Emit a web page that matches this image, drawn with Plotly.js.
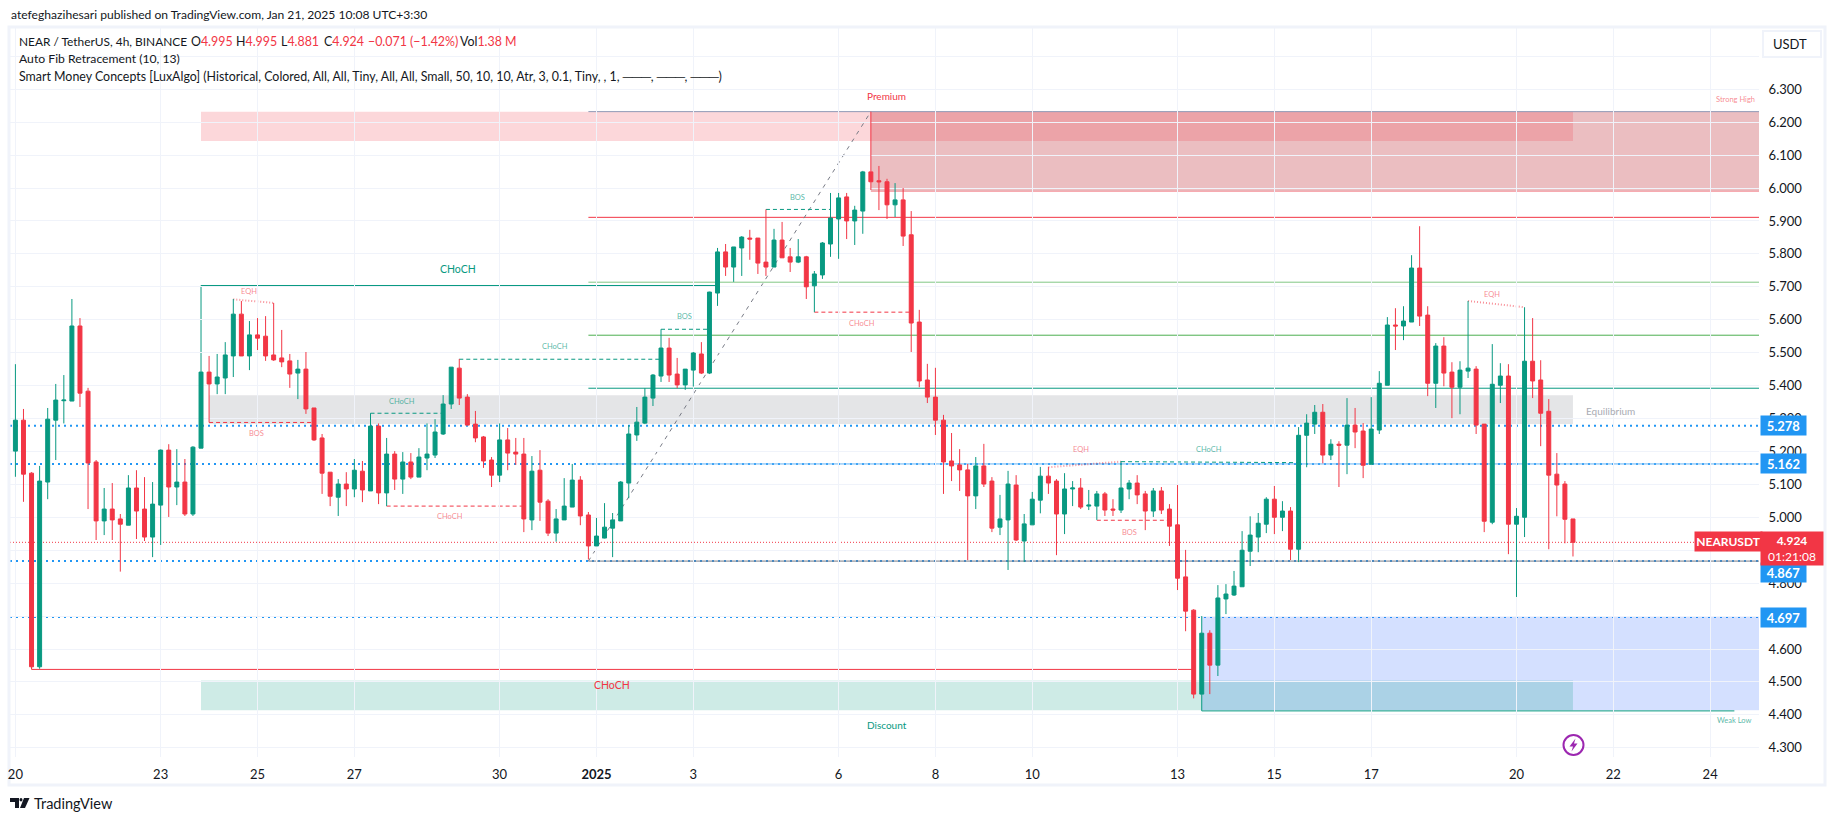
<!DOCTYPE html>
<html><head><meta charset="utf-8">
<script src="https://cdn.plot.ly/plotly-3.0.1.min.js"></script>
<style>html,body{margin:0;padding:0;background:#fff;overflow:hidden}#c{width:1835px;height:821px}</style>
</head><body><div id="c"></div>
<script>
const opens=[5.201,5.295,5.134,4.546,5.107,5.295,5.354,5.353,5.581,5.383,
5.168,4.989,5.025,4.995,4.976,5.089,5.025,4.940,5.037,5.204,
5.092,5.107,5.010,5.210,5.441,5.405,5.423,5.490,5.617,5.490,
5.554,5.550,5.493,5.484,5.475,5.438,5.450,5.332,5.241,5.137,
5.061,5.101,5.086,5.140,5.080,5.277,5.074,5.192,5.116,5.168,
5.122,5.180,5.189,5.253,5.344,5.453,5.365,5.283,5.244,5.174,
5.128,5.235,5.198,5.192,4.992,5.143,5.049,4.952,4.992,5.031,
5.113,5.007,4.913,4.937,4.967,4.989,5.104,5.250,5.286,5.362,
5.429,5.514,5.435,5.402,5.447,5.496,5.438,5.681,5.806,5.760,
5.818,5.848,5.848,5.775,5.760,5.842,5.791,5.775,5.791,5.703,
5.736,5.830,5.906,5.973,5.900,5.930,6.049,6.022,6.019,5.949,
5.964,5.858,5.593,5.417,5.365,5.295,5.171,5.159,5.144,5.065,
5.156,5.110,4.970,4.992,5.098,4.928,4.977,5.052,5.125,5.110,
5.010,5.086,5.089,5.034,5.034,5.071,5.025,5.022,5.086,5.104,
5.071,5.019,5.080,5.025,4.977,4.819,4.718,4.463,4.648,4.551,
4.752,4.764,4.789,4.897,4.940,4.979,5.055,5.000,5.019,4.903,
5.249,5.283,5.319,5.189,5.222,5.219,5.280,5.262,5.161,5.265,
5.401,5.584,5.581,5.593,5.757,5.614,5.407,5.520,5.441,5.395,
5.444,5.450,5.283,4.985,5.401,5.429,4.979,5.000,5.474,5.417,
5.322,5.131,5.101,4.995];
const highs=[5.465,5.329,5.137,5.156,5.332,5.405,5.432,5.663,5.605,5.393,
5.174,5.089,5.104,5.010,5.128,5.143,5.122,5.107,5.206,5.222,
5.207,5.177,5.216,5.441,5.490,5.496,5.532,5.663,5.657,5.596,
5.605,5.611,5.651,5.569,5.496,5.478,5.502,5.332,5.253,5.137,
5.116,5.137,5.177,5.171,5.316,5.285,5.241,5.201,5.198,5.195,
5.210,5.285,5.298,5.371,5.456,5.481,5.374,5.323,5.247,5.183,
5.285,5.271,5.241,5.241,5.186,5.204,5.055,5.025,5.119,5.162,
5.125,5.016,4.998,5.043,5.013,5.110,5.280,5.335,5.392,5.435,
5.571,5.545,5.484,5.450,5.502,5.532,5.685,5.818,5.830,5.821,
5.854,5.873,5.848,5.935,5.876,5.897,5.818,5.845,5.794,5.748,
5.836,5.985,5.985,5.985,5.946,6.052,6.232,6.067,6.028,6.015,
6.000,5.930,5.630,5.466,5.454,5.311,5.256,5.207,5.162,5.183,
5.223,5.122,5.068,5.141,5.128,5.010,5.077,5.153,5.153,5.116,
5.134,5.110,5.119,5.083,5.080,5.077,5.055,5.171,5.113,5.128,
5.080,5.089,5.092,5.040,5.098,4.901,4.721,4.700,4.657,4.794,
4.797,4.837,4.958,5.003,5.013,5.061,5.095,5.049,5.031,5.274,
5.313,5.341,5.344,5.237,5.231,5.362,5.332,5.286,5.365,5.444,
5.608,5.635,5.641,5.796,5.884,5.641,5.529,5.547,5.471,5.474,
5.657,5.459,5.283,5.526,5.468,5.465,5.028,5.638,5.605,5.477,
5.359,5.195,5.110,4.995];
const lows=[5.123,5.047,4.540,4.540,5.055,5.174,5.285,5.353,5.335,5.025,
4.931,4.946,4.931,4.835,4.976,4.934,4.928,4.879,4.916,5.001,
5.037,5.004,5.004,5.210,5.288,5.374,5.374,5.426,5.490,5.447,
5.508,5.475,5.475,5.456,5.393,5.359,5.314,5.232,5.071,5.034,
5.004,5.034,5.061,5.046,5.080,5.040,5.034,5.083,5.071,5.116,
5.122,5.143,5.180,5.250,5.329,5.341,5.280,5.228,5.150,5.092,
5.107,5.143,5.159,4.955,4.961,4.989,4.943,4.926,4.992,5.031,
4.976,4.872,4.913,4.936,4.879,4.989,5.058,5.232,5.283,5.338,
5.411,5.411,5.392,5.387,5.397,5.435,5.435,5.642,5.733,5.715,
5.733,5.782,5.739,5.733,5.760,5.788,5.745,5.772,5.663,5.623,
5.724,5.791,5.785,5.845,5.827,5.861,5.994,5.933,5.906,5.912,
5.824,5.502,5.395,5.347,5.250,5.071,5.110,5.080,4.870,5.025,
5.092,4.955,4.946,4.840,4.928,4.864,4.977,5.012,5.071,4.885,
4.949,5.034,5.025,5.022,4.992,5.004,5.004,5.013,5.055,5.040,
4.961,5.001,5.010,4.913,4.779,4.654,4.450,4.412,4.463,4.518,
4.706,4.761,4.789,4.852,4.894,4.952,4.949,4.958,4.870,4.864,
5.152,5.253,5.164,5.174,5.092,5.131,5.210,5.119,5.161,5.253,
5.401,5.508,5.538,5.593,5.581,5.368,5.332,5.398,5.301,5.313,
5.423,5.253,4.955,4.979,5.347,4.888,4.758,4.940,5.362,5.216,
4.903,5.003,4.921,4.881];
const closes=[5.295,5.131,4.546,5.110,5.298,5.356,5.356,5.581,5.377,5.165,
4.989,5.025,4.992,4.979,5.089,5.019,4.940,5.040,5.204,5.092,
5.107,5.010,5.213,5.441,5.405,5.426,5.493,5.617,5.490,5.554,
5.544,5.490,5.478,5.472,5.435,5.450,5.329,5.235,5.134,5.064,
5.101,5.086,5.143,5.083,5.277,5.074,5.192,5.116,5.168,5.122,
5.183,5.192,5.259,5.344,5.456,5.362,5.280,5.241,5.171,5.128,
5.235,5.195,5.192,4.995,5.140,5.046,4.952,4.995,5.034,5.113,
5.004,4.913,4.943,4.970,4.992,5.107,5.253,5.289,5.365,5.432,
5.514,5.432,5.402,5.450,5.499,5.438,5.684,5.806,5.760,5.821,
5.851,5.845,5.772,5.760,5.842,5.788,5.775,5.791,5.700,5.739,
5.833,5.909,5.970,5.900,5.933,6.049,6.019,6.019,5.949,5.964,
5.854,5.590,5.414,5.365,5.295,5.168,5.156,5.144,5.065,5.156,
5.101,4.967,4.995,5.101,4.931,4.980,5.055,5.125,5.104,5.010,
5.086,5.089,5.031,5.037,5.071,5.022,5.022,5.089,5.104,5.068,
5.019,5.080,5.022,4.973,4.815,4.715,4.463,4.648,4.551,4.755,
4.767,4.791,4.900,4.946,4.982,5.055,5.000,5.019,4.903,5.249,
5.286,5.319,5.189,5.222,5.219,5.280,5.259,5.158,5.268,5.407,
5.584,5.581,5.596,5.757,5.611,5.407,5.520,5.438,5.395,5.447,
5.453,5.280,4.988,5.404,5.429,4.979,5.003,5.474,5.414,5.316,
5.128,5.098,4.994,4.924];

// axis labels
const dateTicks=["2024-12-20","2024-12-23","2024-12-25","2024-12-27","2024-12-30","2025-01-01","2025-01-03","2025-01-06","2025-01-08","2025-01-10","2025-01-13","2025-01-15","2025-01-17","2025-01-20","2025-01-22","2025-01-24"];
const dateLabels=["20","23","25","27","30","<b>2025</b>","3","6","8","10","13","15","17","20","22","24"];
const priceTicks=[4.3,4.4,4.5,4.6,4.7,4.8,4.9,5.0,5.1,5.2,5.3,5.4,5.5,5.6,5.7,5.8,5.9,6.0,6.1,6.2,6.3,6.4];
const priceLabels=priceTicks.map(p=>p>6.35?"":p.toFixed(3));

// price-line levels
const dottedLevels=[5.278,5.162,4.867,4.697];
const fibLevels=[[6.232,"#8f99b5"],[5.911,"#f23645"],[5.714,"#81c784"],[5.553,"#4caf50"],[5.392,"#089981"],[5.162,"#64b5f6"],[4.867,"#787b86"]];
const lastPrice=4.924;

// zones: [startBar,endBar,top,bottom,colour] ; endBar null = to the right edge
const zones=[
 [106,null,6.232,5.990,"rgba(190,40,51,0.3)"],
 [23,193,6.232,6.143,"rgba(242,54,69,0.2)"],
 [24,193,5.371,5.283,"rgba(120,123,134,0.2)"],
 [147,null,4.700,4.414,"rgba(41,98,255,0.2)"],
 [23,193,4.504,4.414,"rgba(8,153,129,0.2)"]
];
// structure lines: [bar0,price0,bar1,price1,colour,style]
const GR="#089981",RD="#f23645",PK="rgba(242,54,69,0.55)";
const structure=[
 [23,5.704,87,5.704,GR,"solid"],[23,5.704,23,5.441,GR,"solid"],
 [2,4.538,146,4.538,RD,"solid"],[2,4.538,2,4.546,RD,"solid"],
 [147,4.412,213,4.412,GR,"solid"],
 [24,5.288,37,5.288,RD,"dash"],
 [44,5.316,53,5.316,GR,"dash"],
 [46,5.034,63,5.034,RD,"dash"],
 [55,5.480,80,5.480,GR,"dash"],
 [80,5.571,86,5.571,GR,"dash"],
 [93,5.935,101,5.935,GR,"dash"],
 [99,5.623,111,5.623,RD,"dash"],
 [137,5.169,159,5.166,GR,"dash"],
 [134,4.991,143,4.991,RD,"dash"],
 [27,5.662,32,5.651,PK,"dot"],
 [128,5.152,137,5.169,PK,"dot"],
 [180,5.657,187,5.638,PK,"dot"]
];
const fibDiagonal=[71,4.867,106,6.232];

// text on the chart: [text,bar,price,colour,size]
const LG="rgba(8,153,129,0.7)",LR="rgba(242,54,69,0.6)";
const chartLabels=[
 ["CHoCH",54.9,5.754,GR,10.5],["CHoCH",73.9,4.49,RD,10.5],
 ["Premium",107.9,6.28,RD,10],["Discount",108,4.37,GR,10],
 ["Strong High",213.1,6.27,LR,7.5],["Weak Low",213,4.382,LG,7.5],
 ["Equilibrium",197.6,5.324,"#a9abb3",10],
 ["BOS",29.9,5.255,LR,7.5],["EQH",28.9,5.687,LR,7.5],
 ["CHoCH",47.9,5.352,LG,7.5],["CHoCH",53.9,5.001,LR,7.5],["CHoCH",66.9,5.520,LG,7.5],
 ["BOS",82.9,5.609,LG,7.5],["BOS",96.9,5.972,LG,7.5],["CHoCH",104.9,5.590,LR,7.5],
 ["EQH",132,5.207,LR,7.5],["CHoCH",147.9,5.207,LG,7.5],["BOS",138,4.955,LR,7.5],["EQH",183,5.678,LR,7.5]
];

const FONT="Lato, 'Noto Sans', sans-serif", INK="#131722";
const W=1835,H=821,L=10,R=76,T=28,B=64;
const BAR_MS=4*3600*1000, T0=Date.UTC(2024,11,20);
const t=i=>new Date(T0+i*BAR_MS).toISOString().slice(0,19).replace("T"," ");
const X=p=>(p-L)/(W-L-R), Y=p=>(H-B-p)/(H-T-B);
const bars=opens.map((_,i)=>t(i));
const dash={solid:"solid",dash:"4px,3px",dot:"1px,2px"};

const shapes=[];
const EDGE=216.05;
zones.forEach(z=>shapes.push({type:"rect",layer:"below",xref:"x",yref:"y",x0:t(z[0]),x1:t(z[1]===null?EDGE:z[1]),y0:z[3],y1:z[2],fillcolor:z[4],line:{width:0}}));
shapes.push({type:"line",layer:"below",xref:"x",yref:"y",x0:t(106),x1:t(EDGE),y0:5.99,y1:5.99,line:{color:"rgba(242,54,69,0.45)",width:1}});
fibLevels.forEach(f=>shapes.push({type:"line",layer:"below",xref:"x",yref:"y",x0:t(71),x1:t(EDGE),y0:f[0],y1:f[0],line:{color:f[1],width:1}}));
dottedLevels.forEach(v=>shapes.push({type:"line",layer:"below",xref:"paper",yref:"y",x0:0,x1:1,y0:v,y1:v,line:{color:"#2196f3",width:2,dash:"2px,4px"}}));
shapes.push({type:"line",layer:"below",xref:"paper",yref:"y",x0:0,x1:1,y0:lastPrice,y1:lastPrice,line:{color:RD,width:1,dash:"1px,2px"}});
shapes.push({type:"line",layer:"below",xref:"x",yref:"y",x0:t(fibDiagonal[0]),y0:fibDiagonal[1],x1:t(fibDiagonal[2]),y1:fibDiagonal[3],line:{color:"#787b86",width:1,dash:"4px,5px"}});
structure.forEach(s=>shapes.push({type:"line",layer:"below",xref:"x",yref:"y",x0:t(s[0]),y0:s[1],x1:t(s[2]),y1:s[3],line:{color:s[4],width:s[5]=="dot"?2:1,dash:dash[s[5]]}}));

// frame, currency button, icon, logo (page furniture placed in pixels)
const pp=(xs,ys)=>xs.map((x,i)=>(i?"L":"M")+X(x)+","+Y(ys[i])).join(" ")+" Z";
const paperRect=(a,b,c,d,extra)=>Object.assign({type:"rect",xref:"paper",yref:"paper",x0:X(a),x1:X(c),y0:Y(b),y1:Y(d)},extra);
shapes.push(paperRect(9,27,1825,785,{layer:"below",line:{color:"#f0f3fa",width:3},fillcolor:"rgba(0,0,0,0)"}));
shapes.push(paperRect(1763,31,1821,57,{layer:"above",line:{color:"#f0f3fa",width:2},fillcolor:"#fff"}));
shapes.push({type:"circle",xref:"paper",yref:"paper",x0:X(1563.5),x1:X(1583.5),y0:Y(735),y1:Y(755),line:{color:"#9c27b0",width:2},fillcolor:"#fff"});
shapes.push({type:"path",xref:"paper",yref:"paper",path:pp([1575.5,1569.5,1573,1571.5,1577.5,1574],[738.5,746.5,746.5,751.5,743.5,743.5]),fillcolor:"#9c27b0",line:{width:0}});
shapes.push({type:"path",xref:"paper",yref:"paper",path:pp([10,19,19,15,15,10],[798,798,808,808,802,802]),fillcolor:INK,line:{width:0}});
shapes.push({type:"circle",xref:"paper",yref:"paper",x0:X(19.5),x1:X(22.5),y0:Y(798),y1:Y(801.5),fillcolor:INK,line:{width:0}});
shapes.push({type:"path",xref:"paper",yref:"paper",path:pp([24,29.5,25,20],[798,798,808,808]),fillcolor:INK,line:{width:0}});

const ann=[];
chartLabels.forEach(a=>ann.push({xref:"x",yref:"y",x:t(a[1]),y:a[2],text:a[0],showarrow:false,font:{family:FONT,size:a[4],color:a[3]},xanchor:"center",yanchor:"middle"}));
const head=(text,px,py,size)=>ann.push({xref:"paper",yref:"paper",x:X(px),y:Y(py),text,showarrow:false,xanchor:"left",yanchor:"middle",align:"left",font:{family:FONT,size:size||13,color:INK},borderpad:0});
head("atefeghazihesari published on TradingView.com, Jan 21, 2025 10:08 UTC+3:30",10,14.7,12.1);
const r=s=>'<span style="color:#f23645">'+s+'</span>';
head("NEAR / TetherUS, 4h, BINANCE",18,41.7,11.9);
[["O"+r("4.995"),190],["H"+r("4.995"),235],["L"+r("4.881"),280],["C"+r("4.924"),323],[r("−0.071 (−1.42%)"),366.5],["Vol"+r("1.38 M"),459]].forEach(s=>head(s[0],s[1],41.7,12.4));
head("Auto Fib Retracement (10, 13)",18,58.7,12.2);
head("Smart Money Concepts [LuxAlgo] (Historical, Colored, All, All, Tiny, All, All, Small, 50, 10, 10, Atr, 3, 0.1, Tiny, , 1, ───, ───, ───)",18,76,12.4);
head("USDT",1772,44.5);
head("TradingView",33,803,14.5);
const tagY={4.867:Y(572.5)};
dottedLevels.forEach(v=>ann.push(Object.assign({xref:"paper",yref:"y",x:X(1760),y:v,text:"<b>"+v.toFixed(3)+"</b>",showarrow:false,xanchor:"left",yanchor:"middle",width:43,height:17,bgcolor:"#2196f3",font:{family:FONT,size:13,color:"#fff"}},tagY[v]?{yref:"paper",y:tagY[v]}:{})));
ann.push({xref:"paper",yref:"paper",x:X(1694),y:Y(541.5),text:"<b>NEARUSDT</b>",showarrow:false,xanchor:"left",yanchor:"middle",width:65,height:17,bgcolor:RD,font:{family:FONT,size:12,color:"#fff"}});
ann.push({xref:"paper",yref:"paper",x:X(1760),y:Y(548.5),text:"<b>4.924</b><br>01:21:08",showarrow:false,xanchor:"left",yanchor:"middle",align:"center",width:60,height:31,bgcolor:RD,font:{family:FONT,size:12,color:"#fff"}});

const trace={type:"candlestick",x:bars,open:opens,high:highs,low:lows,close:closes,width:7.1e6,whiskerwidth:0,
 increasing:{line:{color:GR,width:1},fillcolor:GR},decreasing:{line:{color:RD,width:1},fillcolor:RD},showlegend:false,hoverinfo:"skip"};
const layout={width:W,height:H,margin:{l:L,r:R,t:T,b:B,pad:0},paper_bgcolor:"#fff",plot_bgcolor:"#fff",showlegend:false,shapes,annotations:ann,
 font:{family:FONT,size:13,color:INK},
 xaxis:{type:"date",range:[t(-0.67),t(EDGE)],tickvals:dateTicks,ticktext:dateLabels,tickangle:0,showline:false,zeroline:false,ticks:"outside",ticklen:5,tickcolor:"rgba(0,0,0,0)",gridcolor:"#f0f3fa",gridwidth:1,rangeslider:{visible:false},tickfont:{family:FONT,size:13,color:INK}},
 yaxis:{side:"right",range:[4.272,6.486],tickvals:priceTicks,ticktext:priceLabels,showline:false,zeroline:false,ticks:"outside",ticklen:6,tickcolor:"rgba(0,0,0,0)",gridcolor:"#f0f3fa",gridwidth:1,tickfont:{family:FONT,size:13,color:INK}}
};
Plotly.newPlot("c",[trace],layout,{staticPlot:true,displayModeBar:false});
</script></body></html>
